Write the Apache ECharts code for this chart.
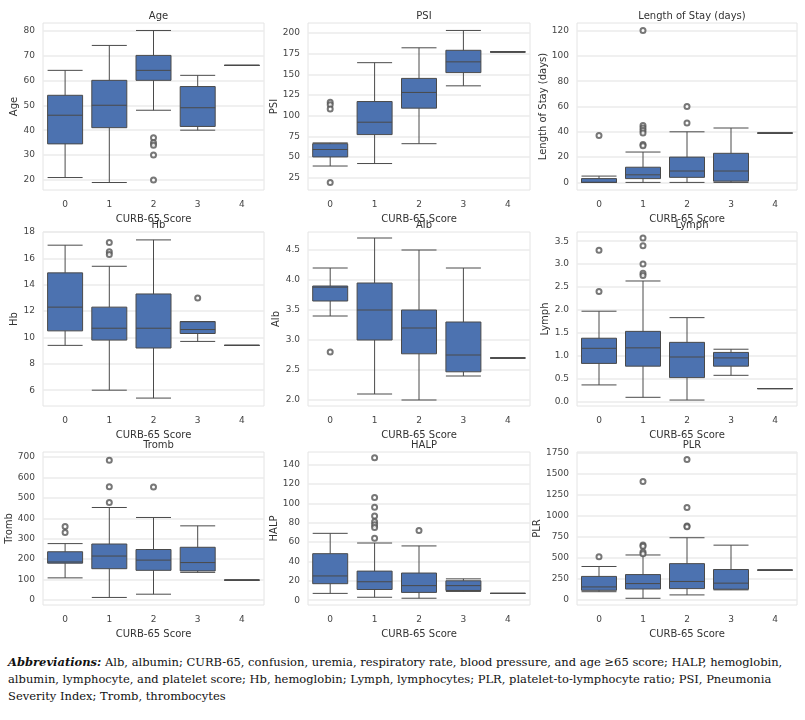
<!DOCTYPE html>
<html>
<head>
<meta charset="utf-8">
<script src="https://cdn.jsdelivr.net/npm/echarts@6/dist/echarts.min.js"></script>
<style>
body{margin:0;background:#fff;}
#chart{width:805px;height:640px;}
#cap{position:absolute;left:8px;top:654px;width:790px;font-family:"DejaVu Serif","Liberation Serif",serif;font-size:11.5px;line-height:17px;color:#111;}
</style>
</head>
<body>
<div id="chart"></div>
<div id="cap"><b><i>Abbreviations:</i></b> Alb, albumin; CURB-65, confusion, uremia, respiratory rate, blood pressure, and age ≥65 score; HALP, hemoglobin, albumin, lymphocyte, and platelet score; Hb, hemoglobin; Lymph, lymphocytes; PLR, platelet-to-lymphocyte ratio; PSI, Pneumonia Severity Index; Tromb, thrombocytes</div>
<script>
var scores = ['0','1','2','3','4'];
// [min, Q1, median, Q3, max] per CURB-65 score
var ageBox = [[21,34.5,46,54,64],[19,41,50,60,74],[48,60,64,70,80],[40,41.5,49,57.5,62],[66,66,66,66,66]];
var ageOut = [[2,37],[2,35],[2,34],[2,30],[2,20]];
var psiBox = [[39,50,59,66,67],[42,77,92,117,164],[66,109,128,145,182],[136,152,165,179,203],[177,177,177,177,177]];
var psiOut = [[0,116],[0,113],[0,108],[0,19]];
var losBox = [[0,0,0,3,5],[0,3,6,12,24],[0,4,9,20,40],[0,1,9,23,43],[39,39,39,39,39]];
var losOut = [[0,37],[1,120],[1,45],[1,43],[1,41],[1,39],[1,30],[1,29],[2,60],[2,47]];
var hbBox = [[9.4,10.5,12.3,14.9,17],[6,9.8,10.7,12.3,15.4],[5.4,9.2,10.7,13.3,17.4],[9.7,10.3,10.6,11.2,11.2],[9.4,9.4,9.4,9.4,9.4]];
var hbOut = [[1,17.2],[1,16.5],[1,16.3],[3,13]];
var albBox = [[3.4,3.65,3.88,3.9,4.2],[2.1,3.0,3.5,3.95,4.7],[2.0,2.77,3.2,3.5,4.5],[2.4,2.47,2.75,3.3,4.2],[2.7,2.7,2.7,2.7,2.7]];
var albOut = [[0,2.8]];
var lymBox = [[0.36,0.83,1.16,1.38,1.97],[0.09,0.77,1.17,1.53,2.63],[0.03,0.52,0.97,1.29,1.83],[0.57,0.77,0.95,1.07,1.14],[0.28,0.28,0.28,0.28,0.28]];
var lymOut = [[0,3.3],[0,2.4],[1,3.57],[1,3.4],[1,3.0],[1,2.8],[1,2.75]];
var trBox = [[108,180,186,236,276],[12,153,215,274,453],[28,145,195,247,404],[135,142,183,258,363],[97,97,97,97,97]];
var trOut = [[0,360],[0,330],[1,685],[1,555],[1,478],[2,553]];
var halpBox = [[7,17,25,48,69],[3,11,19,30,59],[2,8,15,28,56],[9,10,15,20,22],[7,7,7,7,7]];
var halpOut = [[1,147],[1,106],[1,96],[1,87],[1,81],[1,78],[1,75],[1,64],[2,72]];
var plrBox = [[98,115,155,280,398],[20,130,195,302,535],[60,135,220,432,740],[120,128,200,362,652],[355,355,355,355,355]];
var plrOut = [[0,515],[1,1410],[1,655],[1,640],[1,570],[1,550],[2,1670],[2,1100],[2,880],[2,870]];

// title, box, outliers, axis min, axis max, tick values
var panels = [
  ['Age', ageBox, ageOut, 16, 83, [20,30,40,50,60,70,80]],
  ['PSI', psiBox, psiOut, 10, 212, [25,50,75,100,125,150,175,200]],
  ['Length of Stay (days)', losBox, losOut, -6, 126, [0,20,40,60,80,100,120]],
  ['Hb', hbBox, hbOut, 4.8, 18, [6,8,10,12,14,16,18]],
  ['Alb', albBox, albOut, 1.9, 4.8, [2.0,2.5,3.0,3.5,4.0,4.5]],
  ['Lymph', lymBox, lymOut, -0.1, 3.7, [0,0.5,1.0,1.5,2.0,2.5,3.0,3.5]],
  ['Tromb', trBox, trOut, -25, 725, [0,100,200,300,400,500,600,700]],
  ['HALP', halpBox, halpOut, -5, 153, [0,20,40,60,80,100,120,140]],
  ['PLR', plrBox, plrOut, -60, 1760, [0,250,500,750,1000,1250,1500,1750]]
];
var lefts = [43, 308, 577], widths = [221, 222, 220];
var tops = [23, 232, 452], heights = [167, 174, 166];
var font = 'DejaVu Sans';
var grid = [], xAxis = [], yAxis = [], series = [], title = [];
panels.forEach(function(p, i){
  var c = i % 3, r = Math.floor(i / 3);
  grid.push({left: lefts[c], top: tops[r], width: widths[c], height: heights[r], show: true, borderColor: '#e4e4e4', borderWidth: 1});
  title.push({text: p[0], left: lefts[c] + widths[c] / 2, top: tops[r] - 17, textAlign: 'center',
    textStyle: {fontFamily: font, fontSize: 10, fontWeight: 'normal', color: '#333'}});
  xAxis.push({type: 'category', gridIndex: i, data: scores, name: 'CURB-65 Score', nameLocation: 'middle', nameGap: 24,
    nameTextStyle: {fontFamily: font, fontSize: 10, color: '#333'},
    axisLine: {show: false}, axisTick: {show: false},
    axisLabel: {fontFamily: font, fontSize: 9, color: '#444', margin: 10}, splitLine: {show: false}});
  var vals = p[5];
  yAxis.push({type: 'value', gridIndex: i, min: p[3], max: p[4], name: p[0], nameLocation: 'middle', nameGap: c == 0 ? 24 : 27,
    nameTextStyle: {fontFamily: font, fontSize: 10, color: '#333'},
    axisLine: {show: false}, axisTick: {show: false, customValues: vals},
    axisLabel: {fontFamily: font, fontSize: 9, color: '#444', customValues: vals,
      formatter: function(v){ return (vals[1] - vals[0] < 1) ? v.toFixed(1) : String(v); }},
    splitLine: {show: false}});
  // gridlines drawn as markLine on each tick value
  series.push({type: 'boxplot', xAxisIndex: i, yAxisIndex: i, data: p[1], boxWidth: [35, 35],
    itemStyle: {color: '#4c72b0', borderColor: '#4a4a4a', borderWidth: 1},
    markLine: {silent: true, symbol: 'none', label: {show: false}, z: 0,
      lineStyle: {color: '#ebebeb', width: 1.5, type: 'solid'},
      data: vals.map(function(v){ return {yAxis: v}; })},
    z: 3});
  series.push({type: 'scatter', xAxisIndex: i, yAxisIndex: i, data: p[2], symbol: 'emptyCircle', symbolSize: 5,
    itemStyle: {color: '#555', borderColor: '#555', borderWidth: 0.8}, z: 4});
});
var chart = echarts.init(document.getElementById('chart'));
chart.setOption({backgroundColor: '#fff', animation: false, title: title, grid: grid, xAxis: xAxis, yAxis: yAxis, series: series});
</script>
</body>
</html>
